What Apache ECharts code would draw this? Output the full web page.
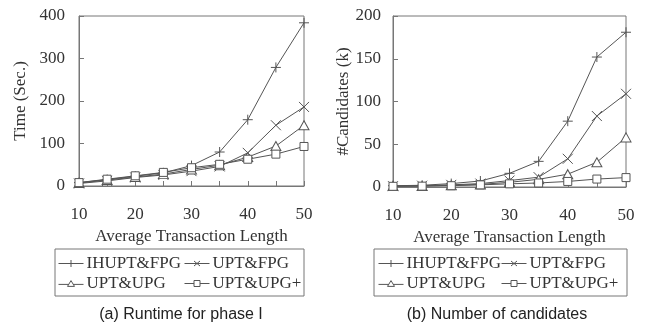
<!DOCTYPE html>
<html>
<head>
<meta charset="utf-8">
<script src="https://cdn.jsdelivr.net/npm/echarts@6/dist/echarts.min.js"></script>
<style>
html,body{margin:0;padding:0;background:#fff;}
#c{width:649px;height:323px;}
</style>
</head>
<body>
<div id="c"></div>
<script>
var xValues = [10, 15, 20, 25, 30, 35, 40, 45, 50];
var seriesNames = ['IHUPT&FPG', 'UPT&FPG', 'UPT&UPG', 'UPT&UPG+'];

// (a) Runtime for phase I  (seconds)
var runIHUPT_FPG = [8, 15, 23, 31, 48, 80, 156, 279, 384];
var runUPT_FPG   = [6, 12, 20, 26, 35, 46, 78, 143, 186];
var runUPT_UPG   = [7, 14, 21, 28, 39, 49, 68, 94, 143];
var runUPT_UPGp  = [8, 16, 24, 32, 43, 51, 63, 75, 93];

// (b) Number of candidates (k)
var candIHUPT_FPG = [1.5, 2, 4, 7, 16, 30, 77, 152, 181];
var candUPT_FPG   = [1, 1.5, 2.5, 4, 7.5, 11.5, 33, 83, 109];
var candUPT_UPG   = [1, 1.2, 2, 3, 5.5, 9, 15, 29, 58];
var candUPT_UPGp  = [0.8, 1, 1.5, 2.5, 3.7, 4.7, 6.5, 9.3, 11];

var xTickLabels = [10, 20, 30, 40, 50];
var yTicksA = [0, 100, 200, 300, 400];
var yTicksB = [0, 50, 100, 150, 200];

var captionA = '(a) Runtime for phase I';
var captionB = '(b) Number of candidates';

var SERIF = '"Liberation Serif", "DejaVu Serif", serif';
var SANS = '"Liberation Sans", Arial, sans-serif';
var LC = '#555';

var symbols = [
  'path://M0,5L10,5M5,0L5,10',
  'path://M0,0L10,10M10,0L0,10',
  'path://M5,0L10,9L0,9Z',
  'path://M0,0H10V10H0Z'
];
var symSizes = [10, 10, [10, 9], 8];

// legend icons: short line with a small marker in the middle
var legendIcons = [
  'path://M0,5L25,5M12.5,1.5L12.5,8.5',
  'path://M0,5L25,5M9.5,2.5L15.5,7.5M15.5,2.5L9.5,7.5',
  'path://M0,6L10.3,6M14.7,6L25,6M12.5,2.2L16,8L9,8Z',
  'path://M0,5L9.5,5M15.5,5L25,5M9.5,2H15.5V8H9.5Z'
];

function pairs(vals) {
  return xValues.map(function (x, i) { return [x, vals[i]]; });
}

function mkSeries(name, vals, idx, gi) {
  return {
    name: name,
    type: 'line',
    xAxisIndex: gi,
    yAxisIndex: gi,
    data: pairs(vals),
    symbol: symbols[idx],
    symbolSize: symSizes[idx],
    symbolKeepAspect: false,
    showAllSymbol: true,
    lineStyle: { color: LC, width: 1 },
    itemStyle: { color: '#fff', borderColor: LC, borderWidth: 1 },
    emphasis: { disabled: true },
    animation: false,
    z: 3
  };
}

function xAxis(gi) {
  return {
    type: 'value', gridIndex: gi, min: 10, max: 50, interval: 5,
    name: 'Average Transaction Length', nameLocation: 'middle', nameGap: 40,
    nameTextStyle: { fontFamily: SERIF, fontSize: 17, color: '#333' },
    axisLine: { lineStyle: { color: '#777', width: 1 } },
    axisTick: { show: true, inside: true, length: 5, lineStyle: { color: '#777' } },
    axisLabel: {
      fontFamily: SERIF, fontSize: 17, color: '#333', margin: 20,
      formatter: function (v) { return xTickLabels.indexOf(v) >= 0 ? String(v) : ''; }
    },
    splitLine: { show: false }
  };
}

function yAxis(gi, ticks, name, gap, margin) {
  return {
    type: 'value', gridIndex: gi, min: ticks[0], max: ticks[ticks.length - 1],
    interval: ticks[1] - ticks[0],
    name: name, nameLocation: 'middle', nameGap: gap,
    nameTextStyle: { fontFamily: SERIF, fontSize: 17, color: '#333' },
    axisLine: { show: true, lineStyle: { color: '#777', width: 1 } },
    axisTick: { show: true, inside: true, length: 5, lineStyle: { color: '#777' } },
    axisLabel: { fontFamily: SERIF, fontSize: 17, color: '#333', margin: margin, padding: [5, 0, 0, 0] },
    splitLine: { show: false }
  };
}

function legend(idxs, left, top) {
  return {
    data: idxs.map(function (i) { return { name: seriesNames[i], icon: legendIcons[i] }; }),
    orient: 'vertical', left: left, top: top,
    itemWidth: 25, itemHeight: 10, itemGap: 3, padding: 0,
    selectedMode: false,
    itemStyle: { color: '#fff', borderColor: LC, borderWidth: 1 },
    textStyle: { fontFamily: SERIF, fontSize: 17, color: '#333', padding: [0, 0, 0, -2] }
  };
}

var option = {
  backgroundColor: '#fff',
  animation: false,
  grid: [
    { left: 79, right: 345, top: 16, bottom: 137, show: true, borderColor: '#777', borderWidth: 1, containLabel: false },
    { left: 393, right: 23, top: 16, bottom: 136, show: true, borderColor: '#777', borderWidth: 1, containLabel: false }
  ],
  xAxis: [xAxis(0), xAxis(1)],
  yAxis: [
    yAxis(0, yTicksA, 'Time (Sec.)', 50, 14),
    yAxis(1, yTicksB, '#Candidates (k)', 36, 12)
  ],
  legend: [
    legend([0, 2], 58, 255),
    legend([1, 3], 184, 255),
    legend([0, 2], 378, 255),
    legend([1, 3], 501, 255)
  ],
  title: [
    { text: captionA, left: 176, top: 302, textAlign: 'center',
      textStyle: { fontFamily: SANS, fontSize: 16, fontWeight: 'normal', color: '#222' } },
    { text: captionB, left: 492, top: 302, textAlign: 'center',
      textStyle: { fontFamily: SANS, fontSize: 16, fontWeight: 'normal', color: '#222' } }
  ],
  graphic: [
    { type: 'rect', shape: { x: 55, y: 249, width: 249, height: 47 },
      style: { fill: 'none', stroke: '#777', lineWidth: 1 }, silent: true },
    { type: 'rect', shape: { x: 374, y: 249, width: 253, height: 47 },
      style: { fill: 'none', stroke: '#777', lineWidth: 1 }, silent: true }
  ],
  series: [
    mkSeries(seriesNames[0], runIHUPT_FPG, 0, 0),
    mkSeries(seriesNames[1], runUPT_FPG, 1, 0),
    mkSeries(seriesNames[2], runUPT_UPG, 2, 0),
    mkSeries(seriesNames[3], runUPT_UPGp, 3, 0),
    mkSeries(seriesNames[0], candIHUPT_FPG, 0, 1),
    mkSeries(seriesNames[1], candUPT_FPG, 1, 1),
    mkSeries(seriesNames[2], candUPT_UPG, 2, 1),
    mkSeries(seriesNames[3], candUPT_UPGp, 3, 1)
  ]
};

var chart = echarts.init(document.getElementById('c'), null, { renderer: 'canvas' });
chart.setOption(option);
</script>
</body>
</html>
